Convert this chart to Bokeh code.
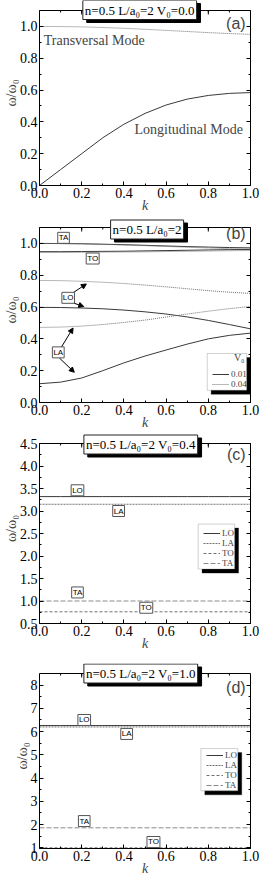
import math
from bokeh.plotting import figure
from bokeh.layouts import column
from bokeh.models import (Range1d, LinearAxis, Label, Arrow, NormalHead, BoxAnnotation, Span,
                          Legend, LegendItem, FixedTicker, PrintfTickFormatter,
                          CustomJSTickFormatter)
from bokeh.embed import file_html
from bokeh.resources import INLINE

# ---------------- data ----------------
k = [0.0, 0.1, 0.2, 0.3, 0.4, 0.5, 0.6, 0.7, 0.8, 0.9, 1.0]

# (a) V0 = 0.0
a_longitudinal = [0.0, 0.10, 0.20, 0.30, 0.385, 0.453, 0.506, 0.543, 0.566, 0.579, 0.584]
a_transversal = [1.0, 0.999, 0.997, 0.993, 0.988, 0.982, 0.975, 0.968, 0.961, 0.955, 0.950]

# (b) V0 = 0.01 (solid) and 0.04 (dotted)
b_TA_001 = [1.0, 0.999, 0.998, 0.995, 0.992, 0.988, 0.984, 0.980, 0.977, 0.974, 0.972]
b_TA_004 = [1.0, 0.999, 0.997, 0.994, 0.990, 0.986, 0.981, 0.976, 0.971, 0.967, 0.964]
b_TO_001 = [0.948, 0.948, 0.949, 0.950, 0.951, 0.953, 0.955, 0.957, 0.959, 0.961, 0.962]
b_TO_004 = [0.943, 0.943, 0.944, 0.945, 0.946, 0.947, 0.949, 0.950, 0.952, 0.954, 0.955]
b_LO_001 = [0.598, 0.597, 0.594, 0.589, 0.581, 0.570, 0.556, 0.538, 0.516, 0.490, 0.463]
b_LO_004 = [0.767, 0.766, 0.762, 0.756, 0.748, 0.738, 0.727, 0.715, 0.703, 0.693, 0.686]
b_LA_001 = [0.118, 0.128, 0.154, 0.200, 0.249, 0.292, 0.330, 0.367, 0.400, 0.422, 0.436]
b_LA_004 = [0.472, 0.474, 0.480, 0.490, 0.503, 0.518, 0.537, 0.556, 0.574, 0.590, 0.604]

# (c) V0 = 0.4
c_LO = [3.32, 3.32, 3.32, 3.32, 3.32, 3.32, 3.32, 3.32, 3.32, 3.32, 3.32]
c_LA = [3.15, 3.15, 3.15, 3.15, 3.15, 3.15, 3.15, 3.15, 3.15, 3.15, 3.15]
c_TO = [0.76, 0.76, 0.76, 0.76, 0.76, 0.76, 0.76, 0.76, 0.76, 0.76, 0.76]
c_TA = [1.0, 1.0, 1.0, 1.0, 1.0, 1.0, 1.0, 1.0, 1.0, 1.0, 1.0]

# (d) V0 = 1.0
d_LO = [6.26, 6.26, 6.26, 6.26, 6.26, 6.26, 6.26, 6.26, 6.26, 6.26, 6.26]
d_LA = [6.20, 6.20, 6.20, 6.20, 6.20, 6.20, 6.20, 6.20, 6.20, 6.20, 6.20]
d_TO = [1.0, 1.0, 1.0, 1.0, 1.0, 1.0, 1.0, 1.0, 1.0, 1.0, 1.0]
d_TA = [1.86, 1.86, 1.86, 1.86, 1.86, 1.86, 1.86, 1.86, 1.86, 1.86, 1.86]

x_ticks = [0.0, 0.2, 0.4, 0.6, 0.8, 1.0]
x_minor = [0.0, 0.1, 0.2, 0.3, 0.4, 0.5, 0.6, 0.7, 0.8, 0.9, 1.0]
ab_yticks = [0.0, 0.2, 0.4, 0.6, 0.8, 1.0]
ab_yminor = [0.0, 0.1, 0.2, 0.3, 0.4, 0.5, 0.6, 0.7, 0.8, 0.9, 1.0, 1.1]
c_yticks = [0.5, 1.0, 1.5, 2.0, 2.5, 3.0, 3.5, 4.0, 4.5]
c_yminor = [0.5, 0.75, 1.0, 1.25, 1.5, 1.75, 2.0, 2.25, 2.5, 2.75, 3.0, 3.25, 3.5, 3.75, 4.0, 4.25, 4.5]
d_yticks = [1, 2, 3, 4, 5, 6, 7, 8]
d_yminor = [1, 1.5, 2, 2.5, 3, 3.5, 4, 4.5, 5, 5.5, 6, 6.5, 7, 7.5, 8]

# ---------------- layout ----------------
W = 259
LEFT, RIGHT = 33, 9
FW = W - LEFT - RIGHT
EXTRA = 10            # frame space above the drawn top border (room for the title box)
SERIF = "Liberation Serif"
SANS = "Liberation Sans"
SOLID = "#3a3a3a"
DOT = "#707070"


def style_axis(ax, ticks, minor, fmt, bounds, labels=True):
    ax.ticker = FixedTicker(ticks=ticks, minor_ticks=minor)
    ax.bounds = bounds
    ax.axis_line_color = "black"
    ax.major_tick_line_color = "black"
    ax.minor_tick_line_color = "black"
    ax.major_tick_in = 4
    ax.major_tick_out = 0
    ax.minor_tick_in = 2
    ax.minor_tick_out = 0
    ax.major_label_text_font = SERIF
    ax.major_label_text_color = "black"
    ax.major_label_text_font_size = "14px"
    if labels:
        ax.formatter = PrintfTickFormatter(format=fmt)
        ax.major_label_standoff = 2
    else:
        ax.formatter = CustomJSTickFormatter(code="return ''")
        ax.major_label_standoff = 0


def make_fig(vh, bottom, yr, yticks, yminor, yfmt):
    ypu = vh / (yr[1] - yr[0])
    p = figure(width=W, height=EXTRA + vh + bottom, x_range=Range1d(0, 1),
               y_range=Range1d(yr[0], yr[1] + EXTRA / ypu),
               output_backend="svg", toolbar_location=None,
               min_border_left=LEFT, min_border_right=RIGHT,
               min_border_top=0, min_border_bottom=bottom)
    p.xgrid.visible = False
    p.ygrid.visible = False
    p.outline_line_color = None
    p.background_fill_color = "white"
    style_axis(p.xaxis[0], x_ticks, x_minor, "%.1f", (0, 1))
    style_axis(p.yaxis[0], yticks, yminor, yfmt, (yr[0], yr[1]))
    xa = p.xaxis[0]
    xa.axis_label = "k"
    xa.axis_label_text_font = SERIF
    xa.axis_label_text_font_style = "italic"
    xa.axis_label_text_font_size = "14px"
    xa.axis_label_standoff = -3
    ya = p.yaxis[0]
    ya.axis_label = "ω/ω₀"
    ya.axis_label_text_font = SERIF
    ya.axis_label_text_font_style = "normal"
    ya.axis_label_text_font_size = "14px"
    ya.axis_label_standoff = -2
    ra = LinearAxis()
    style_axis(ra, yticks, yminor, yfmt, (yr[0], yr[1]), labels=False)
    p.add_layout(ra, "right")
    # drawn top border of the box with inward ticks
    p.add_layout(Span(location=yr[1], dimension="width", line_color="black", line_width=1))
    p.segment(x0=x_ticks, y0=[yr[1]] * len(x_ticks), x1=x_ticks,
              y1=[yr[1] - 4 / ypu] * len(x_ticks), line_color="black", line_width=1)
    p.segment(x0=x_minor, y0=[yr[1]] * len(x_minor), x1=x_minor,
              y1=[yr[1] - 2 / ypu] * len(x_minor), line_color="black", line_width=1)
    info = {"ypu": ypu, "yr": yr}
    return p, info


def decorate(p, info, title, letter, title_x, title_dy, letter_dy):
    y0, y1 = info["yr"]
    ypu = info["ypu"]
    p.add_layout(Label(x=1 - 5 / FW, y=y1 - letter_dy / ypu, text=letter, text_align="right",
                       text_baseline="middle", text_font=SANS, text_font_size="16px"))
    ty = y1 + title_dy / ypu
    p.add_layout(Label(x=title_x + 4 / FW, y=ty - 3 / ypu, text=title, text_align="center",
                       text_baseline="middle", text_font=SERIF, text_font_size="13px",
                       text_color="black", background_fill_color="black",
                       border_line_color="black", padding=2))
    p.add_layout(Label(x=title_x, y=ty, text=title, text_align="center",
                       text_baseline="middle", text_font=SERIF, text_font_size="13px",
                       text_color="black", background_fill_color="white",
                       border_line_color="#222222", border_line_width=1, padding=2))


def tag(p, x, y, text):
    p.add_layout(Label(x=x, y=y, text=text, text_align="center", text_baseline="middle",
                       text_font=SANS, text_font_size="8px", text_color="black",
                       background_fill_color="white", border_line_color="#555555",
                       border_line_width=1, padding=1))


def legend_box(p, info, left, right, bottom, top):
    dx = 4 / FW
    dy = 4 / info["ypu"]
    p.add_layout(BoxAnnotation(left=left + dx, right=right + dx, bottom=bottom - dy, top=top - dy,
                               fill_color="black", fill_alpha=1, line_color="black"))
    p.add_layout(BoxAnnotation(left=left, right=right, bottom=bottom, top=top,
                               fill_color="white", fill_alpha=1, line_color="#666666",
                               line_width=1))


def make_legend(p, info, items, x, y):
    leg = Legend(items=items, location=(int(x * FW), int((y - info["yr"][0]) * info["ypu"])),
                 background_fill_alpha=0, border_line_color=None,
                 padding=1, spacing=0, margin=0, glyph_width=17, glyph_height=10,
                 label_height=10, label_width=10, label_standoff=2, label_text_font=SERIF,
                 label_text_font_size="9px", label_text_line_height=1.0)
    p.add_layout(leg)


# ---------------- (a) ----------------
pa, ia = make_fig(175, 32, (0.0, 1.1), ab_yticks, ab_yminor, "%.1f")
pa.line(k, a_transversal, line_color=DOT, line_width=1, line_dash="1 1")
pa.line(k, a_longitudinal, line_color=SOLID, line_width=1)
pa.add_layout(Label(x=0.02, y=0.91, text="Transversal Mode", text_baseline="middle",
                    text_font=SERIF, text_font_size="14px"))
pa.add_layout(Label(x=0.45, y=0.352, text="Longitudinal Mode", text_baseline="middle",
                    text_font=SERIF, text_font_size="14px"))
decorate(pa, ia, "n=0.5 L/a₀=2 V₀=0.0", "(a)", 0.475, 0.5, 13)

# ---------------- (b) ----------------
pb, ib = make_fig(175, 31, (0.0, 1.1), ab_yticks, ab_yminor, "%.1f")
rb1 = pb.line(k, b_TA_001, line_color=SOLID, line_width=1)
rb2 = pb.line(k, b_TA_004, line_color=DOT, line_width=1, line_dash="1 1")
pb.line(k, b_TO_001, line_color=SOLID, line_width=1)
pb.line(k, b_TO_004, line_color=DOT, line_width=1, line_dash="1 1")
pb.line(k, b_LO_001, line_color=SOLID, line_width=1)
pb.line(k, b_LO_004, line_color=DOT, line_width=1, line_dash="1 1")
pb.line(k, b_LA_001, line_color=SOLID, line_width=1)
pb.line(k, b_LA_004, line_color=DOT, line_width=1, line_dash="1 1")
for (xs, ys, xe, ye) in [(0.159, 0.69, 0.222, 0.745), (0.162, 0.625, 0.21, 0.603),
                         (0.10, 0.34, 0.159, 0.468), (0.094, 0.28, 0.165, 0.19)]:
    pb.add_layout(Arrow(end=NormalHead(size=5, fill_color="black", line_color="black"),
                        x_start=xs, y_start=ys, x_end=xe, y_end=ye,
                        line_color="black", line_width=1))
tag(pb, 0.114, 1.035, "TA")
tag(pb, 0.252, 0.905, "TO")
tag(pb, 0.136, 0.658, "LO")
tag(pb, 0.089, 0.315, "LA")
legend_box(pb, ib, 0.795, 0.982, 0.077, 0.308)
pb.add_layout(Label(x=0.972, y=0.282, text="V₀", text_align="right", text_baseline="middle",
                    text_font=SERIF, text_font_size="10px"))
make_legend(pb, ib, [LegendItem(label="0.01", renderers=[rb1]),
                     LegendItem(label="0.04", renderers=[rb2])], 0.80, 0.085)
decorate(pb, ib, "n=0.5 L/a₀=2", "(b)", 0.51, -2, 6)

# ---------------- (c) ----------------
pc, ic = make_fig(180, 40, (0.5, 4.5), c_yticks, c_yminor, "%.1f")
rc1 = pc.line(k, c_LO, line_color=SOLID, line_width=1)
rc2 = pc.line(k, c_LA, line_color=DOT, line_width=1, line_dash="2 1")
rc3 = pc.line(k, c_TO, line_color=DOT, line_width=1, line_dash="3 2")
rc4 = pc.line(k, c_TA, line_color="#8a8a8a", line_width=1, line_dash="5 2")
tag(pc, 0.18, 3.46, "LO")
tag(pc, 0.375, 3.0, "LA")
tag(pc, 0.18, 1.19, "TA")
tag(pc, 0.506, 0.85, "TO")
legend_box(pc, ic, 0.752, 0.925, 1.71, 2.71)
make_legend(pc, ic, [LegendItem(label="LO", renderers=[rc1]), LegendItem(label="LA", renderers=[rc2]),
                     LegendItem(label="TO", renderers=[rc3]), LegendItem(label="TA", renderers=[rc4])],
            0.757, 1.74)
decorate(pc, ic, "n=0.5 L/a₀=2 V₀=0.4", "(c)", 0.48, -1, 11)

# ---------------- (d) ----------------
pd_, id_ = make_fig(175, 31, (0.97, 8.5), d_yticks, d_yminor, "%d")
rd1 = pd_.line(k, d_LO, line_color=SOLID, line_width=1)
rd2 = pd_.line(k, d_LA, line_color=DOT, line_width=1, line_dash="2 1")
rd3 = pd_.line(k, d_TO, line_color=DOT, line_width=1, line_dash="3 2")
rd4 = pd_.line(k, d_TA, line_color="#8a8a8a", line_width=1, line_dash="5 2")
tag(pd_, 0.212, 6.5, "LO")
tag(pd_, 0.413, 5.9, "LA")
tag(pd_, 0.212, 2.15, "TA")
tag(pd_, 0.54, 1.25, "TO")
legend_box(pd_, id_, 0.765, 0.94, 3.45, 5.27)
make_legend(pd_, id_, [LegendItem(label="LO", renderers=[rd1]), LegendItem(label="LA", renderers=[rd2]),
                       LegendItem(label="TO", renderers=[rd3]), LegendItem(label="TA", renderers=[rd4])],
            0.77, 3.50)
decorate(pd_, id_, "n=0.5 L/a₀=2 V₀=1.0", "(d)", 0.48, 0, 14)

p = column(pa, pb, pc, pd_, spacing=0)
open("out.html", "w").write(file_html(p, INLINE))
